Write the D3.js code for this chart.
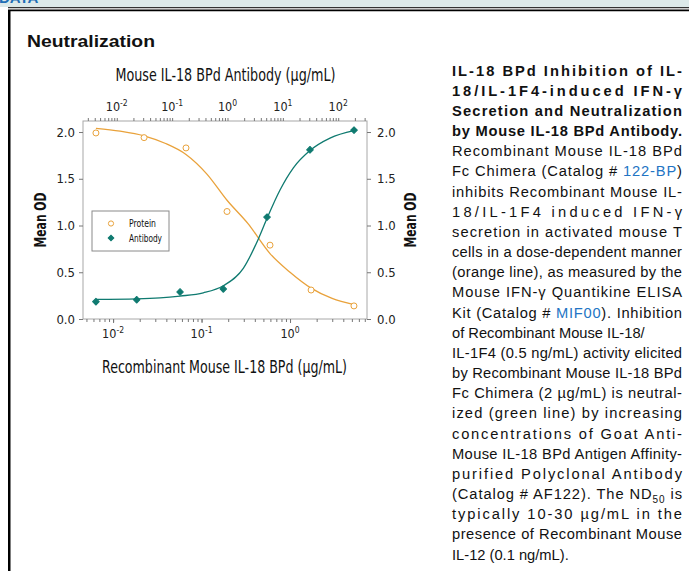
<!DOCTYPE html>
<html><head><meta charset="utf-8">
<script src="https://cdnjs.cloudflare.com/ajax/libs/d3/7.8.5/d3.min.js"></script>
<style>body{margin:0;background:#fff;overflow:hidden} svg{display:block}</style>
</head><body><svg id="c" width="689" height="571"></svg>
<script>
// ---- data ----
const proteinConc = [0.0064, 0.0224, 0.0667, 0.194, 0.594, 1.73, 5.28];   // µg/mL (bottom axis)
const proteinOD   = [1.99, 1.94, 1.83, 1.15, 0.79, 0.31, 0.14];
const antibodyConc = [0.0042, 0.0229, 0.139, 0.84, 5.18, 30.9, 193];     // µg/mL (top axis)
const antibodyOD   = [0.185, 0.206, 0.289, 0.321, 1.09, 1.81, 2.02];
// fitted curves
const proteinFitConc = [0.0064, 0.012, 0.0224, 0.0386, 0.0667, 0.115, 0.194, 0.335, 0.594, 1.0, 1.73, 2.99, 5.28];
const proteinFitOD   = [2.04, 2.01, 1.96, 1.88, 1.76, 1.55, 1.27, 1.02, 0.70, 0.50, 0.33, 0.22, 0.155];
const antibodyFitConc = [0.0042, 0.0229, 0.0604, 0.139, 0.366, 0.84, 1.93, 3.61, 5.18, 8.89, 15.5, 30.9, 71.1, 193];
const antibodyFitOD   = [0.21, 0.215, 0.225, 0.245, 0.28, 0.356, 0.542, 0.856, 1.077, 1.38, 1.617, 1.802, 1.935, 2.014];
const yTicks = [0, 0.5, 1.0, 1.5, 2.0];
const topMajor = [0.01, 0.1, 1, 10, 100];
const bottomMajor = [0.01, 0.1, 1];
const seriesNames = ["Protein", "Antibody"];

const ORANGE = "#e9a23b", TEAL = "#0f7a70";
const chartFont = "'Liberation Sans Narrow','DejaVu Sans Condensed','Roboto Condensed','Liberation Sans',sans-serif";
const svg = d3.select("#c");

// ---- page chrome ----
svg.append("rect").attr("x",0).attr("y",0).attr("width",689).attr("height",7).attr("fill","#dce9e9");
svg.append("text").attr("x",-1).attr("y",3).attr("font-family","Liberation Sans, Arial").attr("font-weight","bold")
  .attr("font-size",15).attr("fill","#1f6fb5").text("DATA");
svg.append("line").attr("x1",8).attr("x2",689).attr("y1",7.6).attr("y2",7.6).attr("stroke","#333").attr("stroke-width",1.4);
svg.append("line").attr("x1",8).attr("x2",689).attr("y1",10.4).attr("y2",10.4).attr("stroke","#000").attr("stroke-width",1.6);
svg.append("rect").attr("x",8).attr("y",10).attr("width",2.5).attr("height",561).attr("fill","#000");
svg.append("text").attr("x",27).attr("y",47).attr("font-family","'Liberation Sans',Arial,sans-serif")
  .attr("font-weight","bold").attr("font-size",17).attr("textLength",128).attr("lengthAdjust","spacingAndGlyphs")
  .attr("fill","#111").text("Neutralization");

// ---- scales ----
const L = 83, R = 367, T = 121, B = 319;
const xb = d3.scaleLog().domain([Math.pow(10,-2.34), Math.pow(10,0.87)]).range([L, R]);
const xt = d3.scaleLog().domain([Math.pow(10,-2.61), Math.pow(10,2.52)]).range([L, R]);
const y = d3.scaleLinear().domain([0, 2.118]).range([B, T]);

const g = svg.append("g");
g.append("rect").attr("x",L).attr("y",T).attr("width",R-L).attr("height",B-T)
  .attr("fill","none").attr("stroke","#a8a8a8").attr("stroke-width",1);

function styleAxis(sel){
  sel.select(".domain").remove();
  sel.selectAll("line").attr("stroke","#777");
  sel.selectAll("text").attr("font-family",chartFont).attr("fill","#222");
}
// left / right y axes
const yl = g.append("g").attr("transform",`translate(${L},0)`)
  .call(d3.axisLeft(y).tickValues(yTicks).tickFormat(d3.format(".1f")).tickSize(4).tickPadding(4));
styleAxis(yl); yl.selectAll("text").attr("font-size",13);
const yr = g.append("g").attr("transform",`translate(${R},0)`)
  .call(d3.axisRight(y).tickValues(yTicks).tickFormat(d3.format(".1f")).tickSize(4).tickPadding(6));
styleAxis(yr); yr.selectAll("text").attr("font-size",13);

// bottom axis (minor + major)
const bMinor = xb.ticks().filter(d => d >= xb.domain()[0] && d <= xb.domain()[1]);
const bm = g.append("g").attr("transform",`translate(0,${B})`)
  .call(d3.axisBottom(xb).tickValues(bMinor).tickFormat("").tickSize(3));
styleAxis(bm);
const bM = g.append("g").attr("transform",`translate(0,${B})`)
  .call(d3.axisBottom(xb).tickValues(bottomMajor).tickFormat("").tickSize(4));
styleAxis(bM);
bottomMajor.forEach(v => {
  const t = g.append("text").attr("x", xb(v)).attr("y", B+19).attr("text-anchor","middle")
    .attr("font-family",chartFont).attr("font-size",12.5).attr("fill","#222");
  t.append("tspan").text("10");
  t.append("tspan").attr("dy",-5).attr("font-size",8.5).text(String(Math.round(Math.log10(v))));
});

// top axis (minor + major)
const tMinor = xt.ticks().filter(d => d >= xt.domain()[0] && d <= xt.domain()[1]);
const tm = g.append("g").attr("transform",`translate(0,${T})`)
  .call(d3.axisTop(xt).tickValues(tMinor).tickFormat("").tickSize(3));
styleAxis(tm);
topMajor.forEach(v => {
  const t = g.append("text").attr("x", xt(v)).attr("y", T-10).attr("text-anchor","middle")
    .attr("font-family",chartFont).attr("font-size",12.5).attr("fill","#222");
  t.append("tspan").text("10");
  t.append("tspan").attr("dy",-5).attr("font-size",8.5).text(String(Math.round(Math.log10(v))));
});

// titles
g.append("text").attr("x",225.5).attr("y",81).attr("text-anchor","middle").attr("font-family",chartFont)
  .attr("font-size",17).attr("textLength",220).attr("lengthAdjust","spacingAndGlyphs").attr("fill","#111")
  .text("Mouse IL-18 BPd Antibody (\u00b5g/mL)");
g.append("text").attr("x",224.5).attr("y",373).attr("text-anchor","middle").attr("font-family",chartFont)
  .attr("font-size",17).attr("textLength",245).attr("lengthAdjust","spacingAndGlyphs").attr("fill","#111")
  .text("Recombinant Mouse IL-18 BPd (\u00b5g/mL)");
[[46,220],[416,220]].forEach(([cx,cy]) => {
  g.append("text").attr("transform",`translate(${cx},${cy}) rotate(-90)`).attr("text-anchor","middle")
    .attr("font-family",chartFont).attr("font-weight","bold").attr("font-size",16)
    .attr("textLength",55).attr("lengthAdjust","spacingAndGlyphs").attr("fill","#111").text("Mean OD");
});

// curves
const protFit = proteinFitConc.map((c,i)=>({c, v: proteinFitOD[i]}));
const abFit = antibodyFitConc.map((c,i)=>({c, v: antibodyFitOD[i]}));
g.append("path").datum(protFit).attr("fill","none").attr("stroke",ORANGE).attr("stroke-width",1.3)
  .attr("d", d3.line().x(d=>xb(d.c)).y(d=>y(d.v)).curve(d3.curveMonotoneX));
g.append("path").datum(abFit).attr("fill","none").attr("stroke",TEAL).attr("stroke-width",1.3)
  .attr("d", d3.line().x(d=>xt(d.c)).y(d=>y(d.v)).curve(d3.curveMonotoneX));

// points
const prot = proteinConc.map((c,i)=>({c, v: proteinOD[i]}));
const ab = antibodyConc.map((c,i)=>({c, v: antibodyOD[i]}));
const diamond = d3.symbol(d3.symbolSquare, 22);
g.selectAll(".p").data(prot).join("circle").attr("cx",d=>xb(d.c)).attr("cy",d=>y(d.v)).attr("r",3)
  .attr("fill","#fff").attr("stroke",ORANGE).attr("stroke-width",1);
g.selectAll(".a").data(ab).join("path").attr("d",diamond)
  .attr("transform",d=>`translate(${xt(d.c)},${y(d.v)}) rotate(45)`).attr("fill",TEAL)
  .attr("stroke",TEAL).attr("stroke-width",1).attr("stroke-linejoin","round");

// legend
const lg = g.append("g");
lg.append("rect").attr("x",92).attr("y",211).attr("width",77).attr("height",40).attr("fill","#fff").attr("stroke","#8a8a8a");
lg.append("circle").attr("cx",111).attr("cy",223.5).attr("r",2.6).attr("fill","#fff").attr("stroke",ORANGE);
lg.append("path").attr("d",d3.symbol(d3.symbolSquare,16)).attr("transform","translate(111,238) rotate(45)")
  .attr("fill",TEAL).attr("stroke",TEAL).attr("stroke-width",1);
const legW = [27, 33];
seriesNames.forEach((n,i)=>{
  lg.append("text").attr("x",129).attr("y",227+i*14.5).attr("font-family",chartFont).attr("font-size",11)
    .attr("textLength",legW[i]).attr("lengthAdjust","spacingAndGlyphs").attr("fill","#111").text(n);
});

// ---- description text ----
const BLUE = "#2274c4";
const lines = [
  {b:1,j:1,p:[["IL-18 BPd Inhibition of IL-"]]},
  {b:1,j:1,p:[["18/IL-1F4-induced IFN-\u03b3"]]},
  {b:1,j:1,p:[["Secretion and Neutralization"]]},
  {b:1,j:1,p:[["by Mouse IL-18 BPd Antibody."]]},
  {j:1,p:[["Recombinant Mouse IL-18 BPd"]]},
  {j:1,p:[["Fc Chimera (Catalog # "],["122-BP",BLUE],[")"]]},
  {j:1,p:[["inhibits Recombinant Mouse IL-"]]},
  {j:1,p:[["18/IL-1F4 induced IFN-\u03b3"]]},
  {j:1,p:[["secretion in activated mouse T"]]},
  {j:1,p:[["cells in a dose-dependent manner"]]},
  {j:1,p:[["(orange line), as measured by the"]]},
  {j:1,p:[["Mouse IFN-\u03b3  Quantikine ELISA"]]},
  {j:1,p:[["Kit (Catalog # "],["MIF00",BLUE],["). Inhibition"]]},
  {j:0,p:[["of Recombinant Mouse IL-18/"]]},
  {j:1,p:[["IL-1F4 (0.5 ng/mL) activity elicited"]]},
  {j:1,p:[["by Recombinant Mouse IL-18 BPd"]]},
  {j:1,p:[["Fc Chimera (2 \u00b5g/mL) is neutral-"]]},
  {j:1,p:[["ized (green line) by increasing"]]},
  {j:1,p:[["concentrations of Goat Anti-"]]},
  {j:1,p:[["Mouse IL-18 BPd Antigen Affinity-"]]},
  {j:1,p:[["purified Polyclonal Antibody"]]},
  {j:1,p:[["(Catalog # AF122). The ND"],["50",null,"sub"],[" is",null,"up"]]},
  {j:1,p:[["typically 10-30 \u00b5g/mL in the"]]},
  {j:1,p:[["presence of Recombinant Mouse"]]},
  {j:0,p:[["IL-12 (0.1 ng/mL)."]]}
];
const tx = 452, tw = 230;
lines.forEach((ln,i)=>{
  const t = svg.append("text").attr("x",tx).attr("y",75.5+i*20.17)
    .attr("font-family","'Liberation Sans',Arial,sans-serif").attr("font-size",14.7)
    .attr("font-weight",ln.b?"bold":"normal").attr("fill","#111");
  ln.p.forEach(([s,col,mode])=>{
    const sp = t.append("tspan").text(s);
    if(col) sp.attr("fill",col);
    if(mode==="sub") sp.attr("dy",4).attr("font-size",10);
    if(mode==="up") sp.attr("dy",-4);
  });
  if(ln.j) t.attr("textLength",tw).attr("lengthAdjust","spacing");
});
</script>
</body></html>
